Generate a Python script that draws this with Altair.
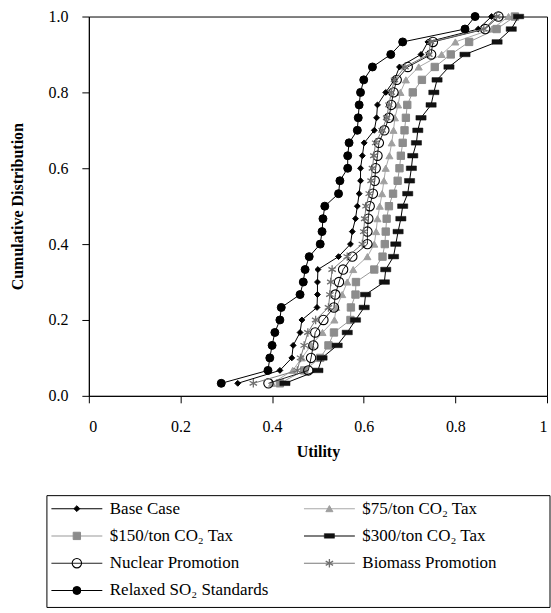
import altair as alt
import pandas as pd

# cumulative probability levels (30 outcomes)
cum = [0.033, 0.067, 0.100, 0.133, 0.167, 0.200, 0.233, 0.267, 0.300, 0.333,
       0.367, 0.400, 0.433, 0.467, 0.500, 0.533, 0.567, 0.600, 0.633, 0.667,
       0.700, 0.733, 0.767, 0.800, 0.833, 0.867, 0.900, 0.933, 0.967, 1.000]

base_case = [0.325, 0.417, 0.443, 0.446, 0.461, 0.465, 0.498, 0.499, 0.499, 0.500,
             0.545, 0.571, 0.575, 0.582, 0.586, 0.590, 0.593, 0.593, 0.597, 0.601,
             0.623, 0.628, 0.630, 0.648, 0.667, 0.678, 0.725, 0.740, 0.850, 0.879]
tax75 = [0.400, 0.445, 0.465, 0.485, 0.510, 0.536, 0.540, 0.553, 0.564, 0.577,
         0.608, 0.623, 0.627, 0.630, 0.635, 0.640, 0.644, 0.648, 0.656, 0.661,
         0.665, 0.668, 0.675, 0.680, 0.692, 0.720, 0.770, 0.800, 0.880, 0.916]
tax150 = [0.417, 0.470, 0.505, 0.523, 0.535, 0.571, 0.572, 0.582, 0.583, 0.623,
          0.641, 0.646, 0.648, 0.650, 0.655, 0.664, 0.674, 0.678, 0.681, 0.685,
          0.689, 0.692, 0.695, 0.707, 0.727, 0.755, 0.790, 0.830, 0.890, 0.930]
tax300 = [0.428, 0.500, 0.509, 0.542, 0.564, 0.582, 0.601, 0.604, 0.645, 0.648,
          0.665, 0.670, 0.675, 0.681, 0.685, 0.696, 0.700, 0.704, 0.707, 0.715,
          0.718, 0.725, 0.747, 0.753, 0.760, 0.786, 0.821, 0.891, 0.922, 0.938]
nuclear = [0.392, 0.479, 0.485, 0.490, 0.494, 0.512, 0.535, 0.538, 0.546, 0.555,
           0.575, 0.608, 0.608, 0.610, 0.613, 0.620, 0.624, 0.626, 0.630, 0.633,
           0.645, 0.655, 0.660, 0.665, 0.672, 0.696, 0.747, 0.751, 0.865, 0.894]
biomass = [0.359, 0.455, 0.462, 0.470, 0.478, 0.495, 0.523, 0.526, 0.528, 0.531,
           0.564, 0.597, 0.600, 0.602, 0.605, 0.612, 0.616, 0.619, 0.622, 0.626,
           0.640, 0.650, 0.655, 0.660, 0.667, 0.690, 0.742, 0.746, 0.862, 0.890]
relaxed = [0.289, 0.391, 0.395, 0.400, 0.406, 0.417, 0.420, 0.461, 0.468, 0.472,
           0.481, 0.505, 0.509, 0.511, 0.515, 0.545, 0.548, 0.565, 0.565, 0.568,
           0.586, 0.588, 0.590, 0.593, 0.600, 0.619, 0.659, 0.685, 0.821, 0.843]

series_names = ["Base Case", "$75/ton CO\u2082 Tax", "$150/ton CO\u2082 Tax",
                "$300/ton CO\u2082 Tax", "Nuclear Promotion", "Biomass Promotion",
                "Relaxed SO\u2082 Standards"]
series_values = [base_case, tax75, tax150, tax300, nuclear, biomass, relaxed]

# legend layout (column, row)
legend_col = [0, 1, 0, 1, 0, 1, 0]
legend_row = [0, 0, 1, 1, 2, 2, 3]

RECT = "M-1,-0.45H1V0.45H-1Z"
STAR = "M0,-1V1M-0.87,-0.5L0.87,0.5M-0.87,0.5L0.87,-0.5"

styles = [
    dict(line="#000000", shape="diamond", size=34, filled=True, fill="#000000", stroke="#000000", sw=1),
    dict(line="#a8a8a8", shape="triangle-up", size=50, filled=True, fill="#a0a0a0", stroke="#a0a0a0", sw=1),
    dict(line="#9a9a9a", shape="square", size=54, filled=True, fill="#8c8c8c", stroke="#8c8c8c", sw=1),
    dict(line="#000000", shape=RECT, size=104, filled=True, fill="#111111", stroke="#111111", sw=0.5),
    dict(line="#222222", shape="circle", size=88, filled=False, fill=None, stroke="#000000", sw=1.1),
    dict(line="#7a7a7a", shape=STAR, size=72, filled=False, fill=None, stroke="#707070", sw=1.3),
    dict(line="#000000", shape="circle", size=64, filled=True, fill="#000000", stroke="#000000", sw=1),
]

FONT = "Liberation Serif"
W, H = 459, 380

x_enc = alt.X("utility:Q",
              scale=alt.Scale(domain=[0, 1], nice=False),
              axis=alt.Axis(values=[0, 0.2, 0.4, 0.6, 0.8, 1], title="Utility",
                            labelExpr="datum.value == 0 ? '0' : datum.value == 1 ? '1' : format(datum.value, '.1f')",
                            grid=False, tickSize=7, labelPadding=16, titlePadding=9))
y_enc = alt.Y("cum:Q",
              scale=alt.Scale(domain=[0, 1], nice=False),
              axis=alt.Axis(values=[0, 0.2, 0.4, 0.6, 0.8, 1.0], format=".1f",
                            title="Cumulative Distribution", grid=False,
                            tickSize=7, labelPadding=14, titlePadding=22))


def point_kwargs(st):
    kw = dict(shape=st["shape"], size=st["size"], filled=st["filled"],
              stroke=st["stroke"], strokeWidth=st["sw"], opacity=1)
    if st["filled"]:
        kw["fill"] = st["fill"]
    return kw


layers = []
for name, vals, st in zip(series_names, series_values, styles):
    d = pd.DataFrame({"utility": vals, "cum": cum})
    base = alt.Chart(d)
    layers.append(base.mark_line(color=st["line"], strokeWidth=1).encode(
        x=x_enc, y=y_enc, order="cum:Q"))
    layers.append(base.mark_point(**point_kwargs(st)).encode(x=x_enc, y=y_enc))

main = alt.layer(*layers)

# legend drawn below the plot, with its own scales
leg_x = alt.X("col:Q", scale=alt.Scale(domain=[0, 1], range=[-12, 241]), axis=None)
leg_y = alt.Y("row:Q", scale=alt.Scale(domain=[0, 3], range=[493, 575]), axis=None)

box_df = pd.DataFrame({"col": [0], "row": [0]})
leg_layers = [
    alt.Chart(box_df).mark_rect(filled=False, stroke="black", strokeWidth=1).encode(
        x=alt.value(-42), x2=alt.value(W + 3), y=alt.value(480), y2=alt.value(592))
]
for name, c, r, st in zip(series_names, legend_col, legend_row, styles):
    d = pd.DataFrame({"name": [name], "col": [c], "row": [r]})
    b = alt.Chart(d)
    leg_layers.append(b.mark_tick(orient="horizontal", size=51, thickness=1,
                                  color=st["line"], opacity=1).encode(x=leg_x, y=leg_y))
    leg_layers.append(b.mark_point(**point_kwargs(st)).encode(x=leg_x, y=leg_y))
    leg_layers.append(b.mark_text(align="left", baseline="middle", dx=33, font=FONT,
                                  fontSize=17, color="black").encode(
        x=leg_x, y=leg_y, text="name:N"))

legend = alt.layer(*leg_layers)

chart = alt.layer(main, legend).resolve_scale(
    x="independent", y="independent"
).properties(
    width=W, height=H,
    padding={"left": 10, "top": 8, "right": 0, "bottom": 0},
    background="white"
).configure_view(
    stroke="black", strokeWidth=1
).configure_axis(
    labelFont=FONT, titleFont=FONT, labelFontSize=16, titleFontSize=16,
    titleFontWeight="bold", labelColor="black", titleColor="black",
    domainColor="black", tickColor="black", domainWidth=1, tickWidth=1
)

chart.save("out.html", embed_options={"renderer": "svg", "actions": False})
